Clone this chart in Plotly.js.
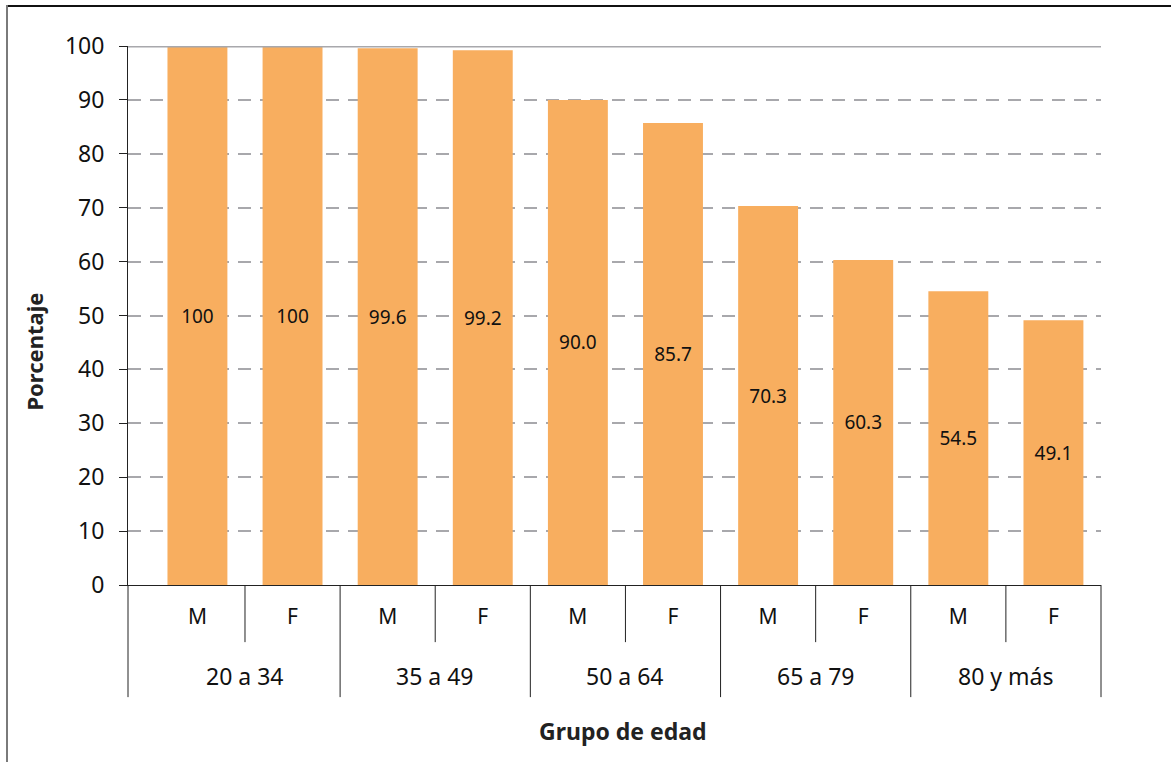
<!DOCTYPE html>
<html>
<head>
<meta charset="utf-8">
<script src="https://cdn.plot.ly/plotly-3.0.1.min.js"></script>
<style>
  html, body { margin: 0; padding: 0; background: #fff; }
  #wrap { position: relative; width: 1171px; height: 762px; }
  #chart { width: 1171px; height: 762px; }
  #frameTop { position: absolute; left: 6px; top: 5px; width: 1165px; height: 2px; background: #111; }
  #frameLeft { position: absolute; left: 6px; top: 5px; width: 2px; height: 757px; background: #7a7a7a; }
</style>
</head>
<body>
<div id="wrap">
  <div id="chart"></div>
  <div id="frameTop"></div>
  <div id="frameLeft"></div>
</div>
<script>
const groupNames = ["20 a 34", "35 a 49", "50 a 64", "65 a 79", "80 y más"];
const sexes = ["M", "F", "M", "F", "M", "F", "M", "F", "M", "F"];
const values = [100, 100, 99.6, 99.2, 90.0, 85.7, 70.3, 60.3, 54.5, 49.1];
const labels = ["100", "100", "99.6", "99.2", "90.0", "85.7", "70.3", "60.3", "54.5", "49.1"];
const yTicks = [0, 10, 20, 30, 40, 50, 60, 70, 80, 90, 100];

const FONT = "Noto Sans, Open Sans, sans-serif";
const idx = sexes.map((_, i) => i);

const trace = {
  type: "bar",
  x: idx,
  y: values,
  text: labels,
  texttemplate: "%{text}",
  textposition: "inside",
  insidetextanchor: "middle",
  textangle: 0,
  textfont: { family: FONT, size: 19, color: "#111" },
  marker: { color: "#F8AE5F", line: { width: 0 } },
  width: 0.63,
  hoverinfo: "skip"
};

const Y_LOW = -0.208;   // bottom of group row
const Y_MID = -0.106;   // bottom of M/F row
const shapes = [];
// M/F dividers
for (let g = 0; g < groupNames.length; g++) {
  shapes.push({
    type: "line", xref: "x", yref: "paper",
    x0: 2 * g + 0.5, x1: 2 * g + 0.5, y0: 0, y1: Y_MID,
    line: { color: "#222", width: 1 }
  });
}
// group dividers
for (let g = 1; g < groupNames.length; g++) {
  shapes.push({
    type: "line", xref: "x", yref: "paper",
    x0: 2 * g - 0.5, x1: 2 * g - 0.5, y0: 0, y1: Y_LOW,
    line: { color: "#222", width: 1 }
  });
}
// outer edges
[0, 1].forEach(px => shapes.push({
  type: "line", xref: "paper", yref: "paper",
  x0: px, x1: px, y0: 0, y1: Y_LOW,
  line: { color: "#222", width: 1 }
}));
// solid line at 100
shapes.push({
  type: "line", xref: "paper", yref: "y",
  x0: 0, x1: 1, y0: 100, y1: 100,
  line: { color: "#A8A8AC", width: 3 }
});

const annotations = groupNames.map((name, g) => ({
  text: name, xref: "x", yref: "paper", x: 2 * g + 0.5, y: -0.169,
  xanchor: "center", yanchor: "middle", showarrow: false,
  font: { family: FONT, size: 23, color: "#111" }
}));
annotations.push(
  { text: "<b>Porcentaje</b>", xref: "paper", yref: "paper", x: -0.0961, y: 0.434,
    xanchor: "center", yanchor: "middle", textangle: -90, showarrow: false,
    font: { family: FONT, size: 22, color: "#222" } },
  { text: "<b>Grupo de edad</b>", xref: "paper", yref: "paper", x: 0.509, y: -0.271,
    xanchor: "center", yanchor: "middle", showarrow: false,
    font: { family: FONT, size: 23, color: "#222" } }
);

const layout = {
  width: 1171, height: 762,
  margin: { l: 128, r: 70, t: 46, b: 177 },
  paper_bgcolor: "#fff", plot_bgcolor: "#fff",
  font: { family: FONT, size: 16, color: "#111" },
  showlegend: false,
  xaxis: {
    range: [-0.73, 9.5],
    tickvals: idx,
    ticktext: sexes,
    showline: true, linecolor: "#222", linewidth: 1,
    showgrid: false, zeroline: false,
    ticks: "", ticklabelstandoff: 13,
    tickfont: { family: FONT, size: 21, color: "#111" }
  },
  yaxis: {
    range: [0, 100],
    tickvals: yTicks,
    ticktext: yTicks.map(String),
    showline: true, linecolor: "#222", linewidth: 1,
    ticks: "outside", ticklen: 8, tickcolor: "#222", tickwidth: 1,
    ticklabelstandoff: 10,
    showgrid: true, gridcolor: "#A8A8AC", gridwidth: 2, griddash: "13px,9px",
    zeroline: false,
    tickfont: { family: FONT, size: 23, color: "#111" }
  },
  shapes: shapes,
  annotations: annotations
};

Plotly.newPlot("chart", [trace], layout, { displayModeBar: false, staticPlot: true });
</script>
</body>
</html>
